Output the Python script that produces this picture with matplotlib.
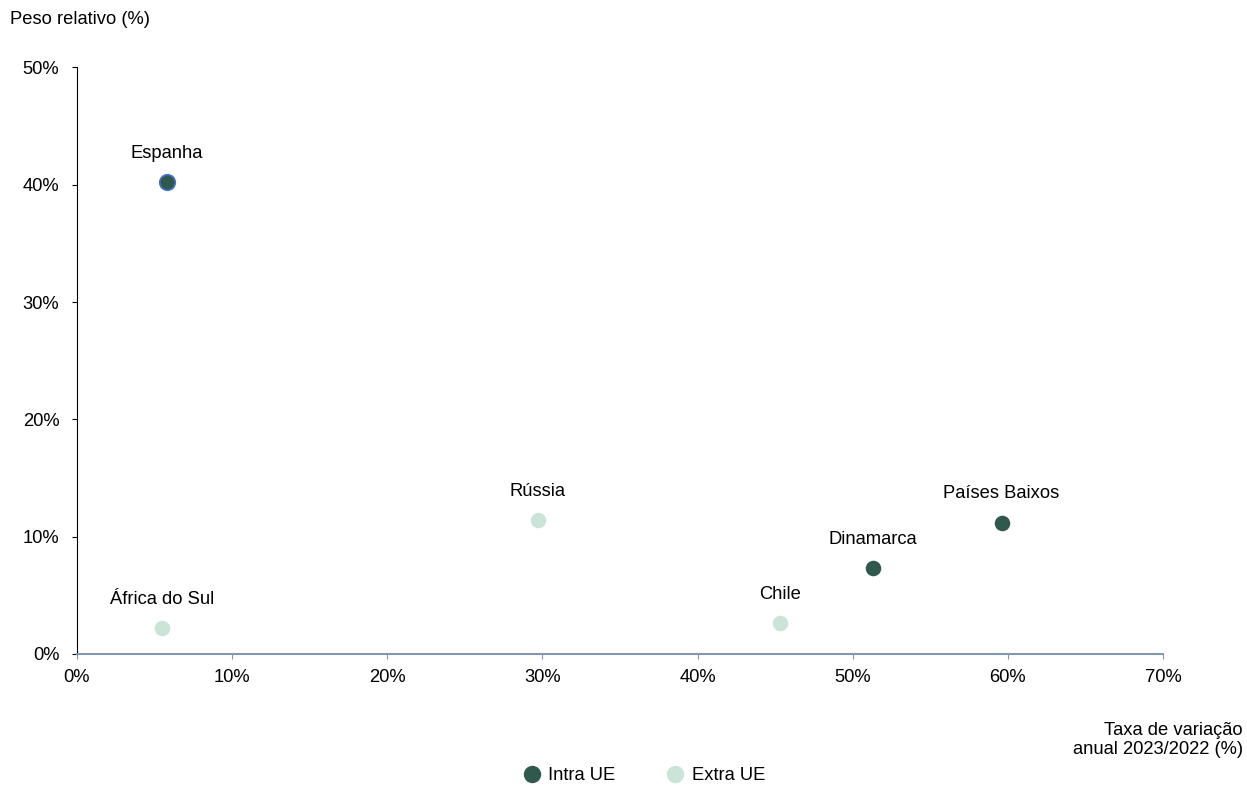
import matplotlib
matplotlib.use("Agg")
import matplotlib.pyplot as plt
from matplotlib.lines import Line2D
from matplotlib.ticker import FuncFormatter

plt.rcParams['font.family'] = ['Liberation Sans', 'DejaVu Sans']

countries = ["Espanha", "África do Sul", "Rússia", "Chile", "Dinamarca", "Países Baixos"]
variation = [5.8, 5.5, 29.7, 45.3, 51.3, 59.6]
weight = [40.2, 2.2, 11.4, 2.6, 7.3, 11.2]
group = ["Intra", "Extra", "Extra", "Extra", "Intra", "Intra"]

x_ticks = [0, 10, 20, 30, 40, 50, 60, 70]
y_ticks = [0, 10, 20, 30, 40, 50]

dark = "#30594D"
light = "#CAE5D8"
FS = 13.2

fig = plt.figure(figsize=(12.47, 7.87), dpi=100)
ax = fig.add_axes([0.0617, 0.169, 0.8709, 0.7454])

for c, xv, yv, g in zip(countries, variation, weight, group):
    col = dark if g == "Intra" else light
    ec = "#4472C4" if c == "Espanha" else col
    ax.scatter([xv], [yv], s=125, color=col, edgecolors=ec, linewidths=1.2 if c == "Espanha" else 0, zorder=3)
    ax.annotate(c, (xv, yv), xytext=(0, 29), textcoords='offset pixels',
                ha='center', va='center', fontsize=FS, color='#000000')

ax.set_xlim(0, 70)
ax.set_ylim(0, 50)
ax.set_xticks(x_ticks)
ax.set_yticks(y_ticks)
ax.xaxis.set_major_formatter(FuncFormatter(lambda v, p: f"{v:.0f}%"))
ax.yaxis.set_major_formatter(FuncFormatter(lambda v, p: f"{v:.0f}%"))
ax.tick_params(axis='both', labelsize=FS, colors='#000000', length=3.6)
ax.tick_params(axis='x', color='#8497B0', pad=7)
ax.tick_params(axis='y', color='#000000', pad=9)
for s in ['top', 'right']:
    ax.spines[s].set_visible(False)
ax.spines['left'].set_color('#000000')
ax.spines['bottom'].set_color('#8497B0')
ax.spines['bottom'].set_linewidth(1.5)

fig.text(10/1247, 1 - 20/787, "Peso relativo (%)", fontsize=FS, ha='left', va='center')
fig.text(1243/1247, 1 - 740/787, "Taxa de variação\nanual 2023/2022 (%)", fontsize=FS,
         ha='right', va='center', multialignment='right', linespacing=1.15)

handles = [Line2D([], [], marker='o', linestyle='', markersize=11.5, color=dark, label='Intra UE'),
           Line2D([], [], marker='o', linestyle='', markersize=11.5, color=light, label='Extra UE')]
fig.legend(handles=handles, loc='center', bbox_to_anchor=(644/1247, 1 - 776/787), ncol=2,
           frameon=False, fontsize=FS, handletextpad=0.4, columnspacing=2.75, handlelength=1.0)

fig.savefig("out.png", dpi=100)
